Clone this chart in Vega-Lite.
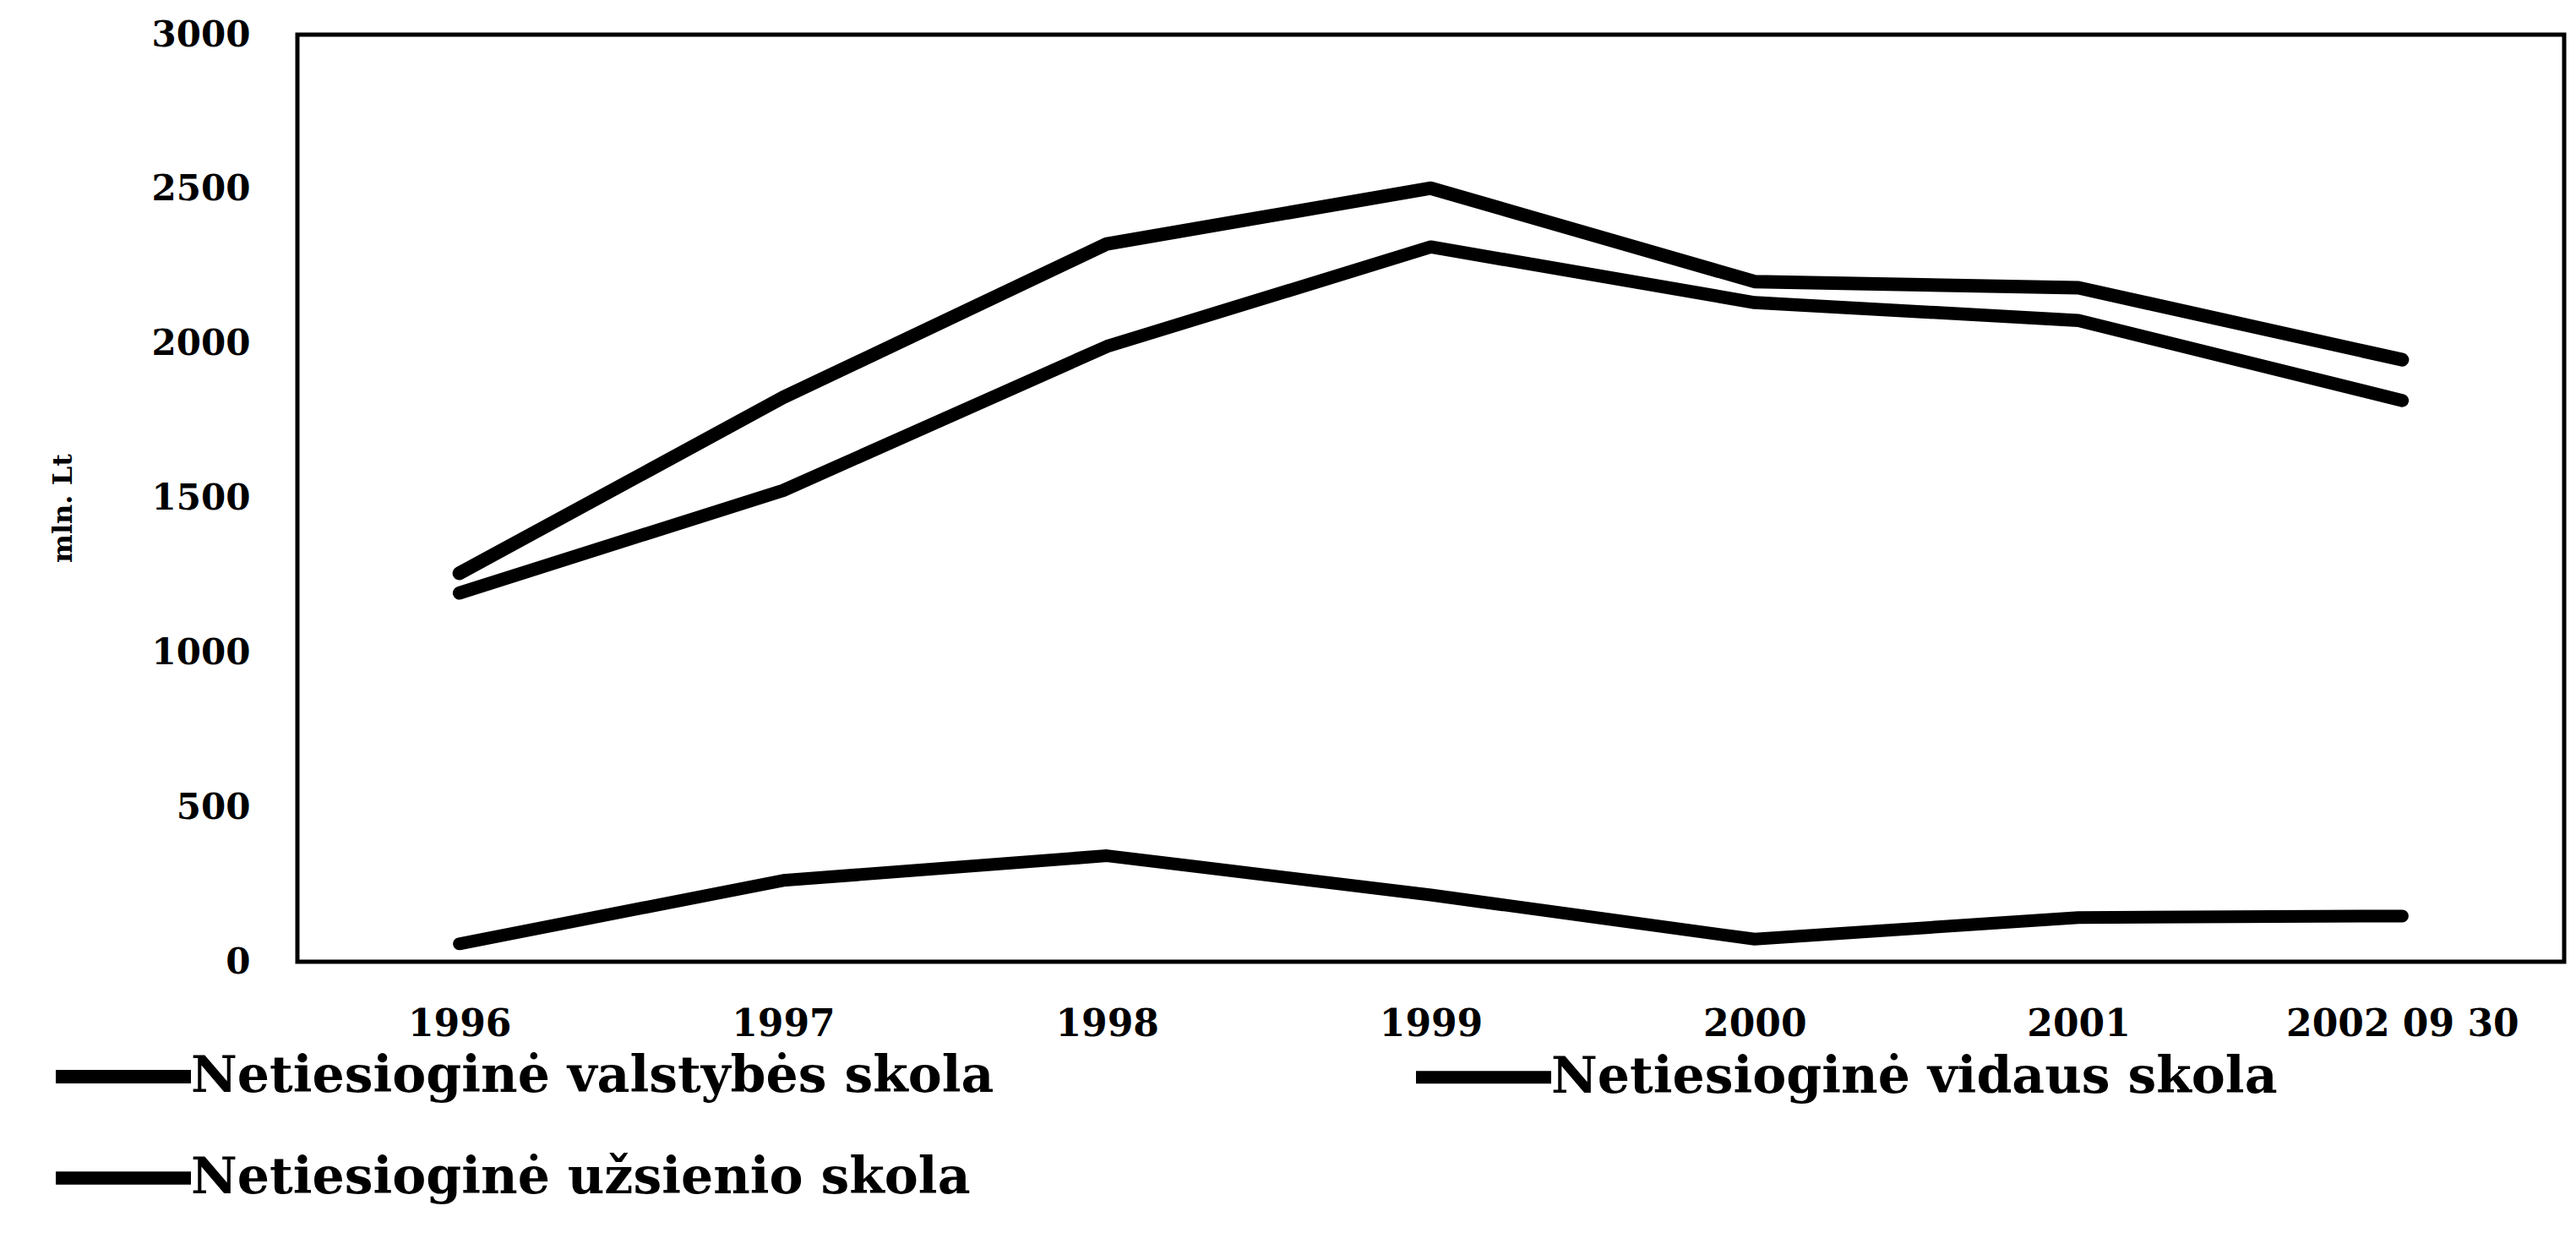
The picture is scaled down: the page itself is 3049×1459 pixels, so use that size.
{
  "$schema": "https://vega.github.io/schema/vega-lite/v6.json",
  "width": 2683,
  "height": 1097,
  "autosize": "none",
  "padding": {"left": 352, "top": 41, "right": 14, "bottom": 321},
  "background": "white",
  "config": {
    "view": {"stroke": "black", "strokeWidth": 5},
    "font": "DejaVu Serif"
  },
  "data": {
    "values": [
      {"metai": "1996", "serija": "Netiesioginė valstybės skola", "mln_lt": 1257},
      {"metai": "1997", "serija": "Netiesioginė valstybės skola", "mln_lt": 1826},
      {"metai": "1998", "serija": "Netiesioginė valstybės skola", "mln_lt": 2323},
      {"metai": "1999", "serija": "Netiesioginė valstybės skola", "mln_lt": 2503},
      {"metai": "2000", "serija": "Netiesioginė valstybės skola", "mln_lt": 2201},
      {"metai": "2001", "serija": "Netiesioginė valstybės skola", "mln_lt": 2181},
      {"metai": "2002 09 30", "serija": "Netiesioginė valstybės skola", "mln_lt": 1948},
      {"metai": "1996", "serija": "Netiesioginė užsienio skola", "mln_lt": 1193},
      {"metai": "1997", "serija": "Netiesioginė užsienio skola", "mln_lt": 1525},
      {"metai": "1998", "serija": "Netiesioginė užsienio skola", "mln_lt": 1991},
      {"metai": "1999", "serija": "Netiesioginė užsienio skola", "mln_lt": 2313},
      {"metai": "2000", "serija": "Netiesioginė užsienio skola", "mln_lt": 2133},
      {"metai": "2001", "serija": "Netiesioginė užsienio skola", "mln_lt": 2075},
      {"metai": "2002 09 30", "serija": "Netiesioginė užsienio skola", "mln_lt": 1816},
      {"metai": "1996", "serija": "Netiesioginė vidaus skola", "mln_lt": 58},
      {"metai": "1997", "serija": "Netiesioginė vidaus skola", "mln_lt": 263},
      {"metai": "1998", "serija": "Netiesioginė vidaus skola", "mln_lt": 343},
      {"metai": "1999", "serija": "Netiesioginė vidaus skola", "mln_lt": 216},
      {"metai": "2000", "serija": "Netiesioginė vidaus skola", "mln_lt": 73},
      {"metai": "2001", "serija": "Netiesioginė vidaus skola", "mln_lt": 143},
      {"metai": "2002 09 30", "serija": "Netiesioginė vidaus skola", "mln_lt": 148}
    ]
  },
  "mark": {"type": "line", "strokeCap": "round", "strokeJoin": "round"},
  "encoding": {
    "x": {
      "field": "metai",
      "type": "ordinal",
      "sort": null,
      "scale": {"type": "point", "padding": 0.5},
      "axis": {
        "title": null,
        "labelAngle": 0,
        "labelFont": "DejaVu Serif",
        "labelFontWeight": "bold",
        "labelFontSize": 44,
        "labelColor": "black",
        "labelPadding": 52,
        "labelLimit": 1000,
        "ticks": false,
        "domain": false,
        "grid": false
      }
    },
    "y": {
      "field": "mln_lt",
      "type": "quantitative",
      "scale": {"domain": [0, 3000]},
      "axis": {
        "title": "mln. Lt",
        "titleFont": "DejaVu Serif",
        "titleFontWeight": "bold",
        "titleFontSize": 32,
        "titleColor": "black",
        "titleX": -278,
        "titleY": 560,
        "titleAngle": -90,
        "titleAlign": "center",
        "titleBaseline": "middle",
        "values": [0, 500, 1000, 1500, 2000, 2500, 3000],
        "format": "d",
        "labelFont": "DejaVu Serif",
        "labelFontWeight": "bold",
        "labelFontSize": 42,
        "labelColor": "black",
        "labelPadding": 56,
        "ticks": false,
        "domain": false,
        "grid": false
      }
    },
    "strokeWidth": {
      "field": "serija",
      "type": "nominal",
      "scale": {
        "domain": ["Netiesioginė valstybės skola", "Netiesioginė užsienio skola", "Netiesioginė vidaus skola"],
        "range": [16, 15, 18]
      },
      "legend": null
    },
    "color": {
      "field": "serija",
      "type": "nominal",
      "sort": ["Netiesioginė valstybės skola", "Netiesioginė užsienio skola", "Netiesioginė vidaus skola"],
      "scale": {
        "domain": ["Netiesioginė valstybės skola", "Netiesioginė užsienio skola", "Netiesioginė vidaus skola"],
        "range": ["black", "black", "black"]
      },
      "legend": {
        "title": null,
        "orient": "none",
        "legendX": -294,
        "legendY": 1145,
        "values": ["Netiesioginė valstybės skola", "Netiesioginė užsienio skola", "Netiesioginė vidaus skola"],
        "columns": 2,
        "columnPadding": 469,
        "rowPadding": -78,
        "symbolType": "stroke",
        "symbolSize": 25600,
        "symbolStrokeWidth": 22,
        "symbolStrokeColor": "black",
        "labelFont": "DejaVu Serif",
        "labelFontWeight": "bold",
        "labelFontSize": 60,
        "labelColor": "black",
        "labelLimit": 2000,
        "labelOffset": -8
      }
    }
  }
}
